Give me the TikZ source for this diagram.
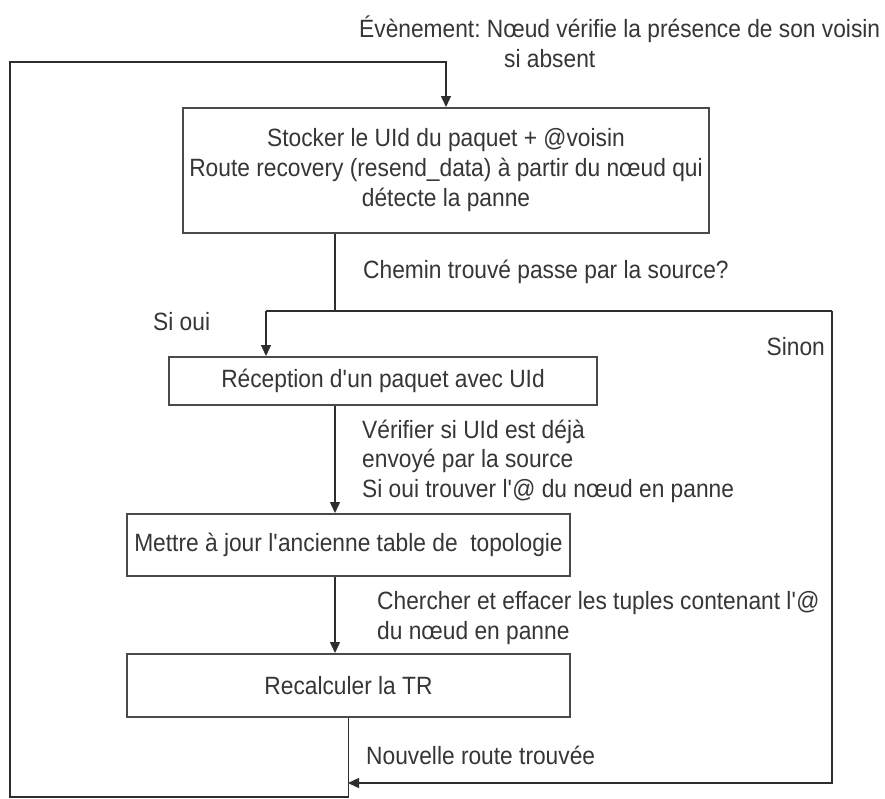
\documentclass[tikz,border=0pt]{standalone}
\usepackage{fontspec}
\setmainfont{Liberation Sans}[FakeStretch=0.91]
\usetikzlibrary{arrows.meta}
\definecolor{txt}{HTML}{363636}
\definecolor{ln}{HTML}{2E2E2E}
\definecolor{bx}{HTML}{4A4A4A}
\frenchspacing
\newcommand{\apo}{\textquotesingle}
\begin{document}
\begin{tikzpicture}[x=1pt,y=-1pt,
  every node/.style={text=txt,font=\fontsize{25}{30}\selectfont},
  box/.style={draw=bx,line width=2pt,inner sep=0pt,align=center},
  lbl/.style={inner sep=0pt,anchor=west,align=left},
  conn/.style={draw=ln,line width=1.4pt},
  arr/.style={conn,-{Triangle[length=11pt,width=10pt]}}]
\fill[white] (0,0) rectangle (885,798);
\useasboundingbox (0,0) rectangle (885,798);

% boxes
\node[box,minimum width=526pt,minimum height=125pt] (b1) at (446,170.5)
  {Stocker le UId du paquet + @voisin\\Route recovery (resend\_data) à partir du nœud qui\\détecte la panne};
\node[box,minimum width=428pt,minimum height=48pt] (b2) at (383,381)
  {Réception d\apo un paquet avec UId};
\node[box,minimum width=443pt,minimum height=62pt] (b3) at (348.5,545)
  {Mettre à jour l\apo ancienne table de\ \ topologie};
\node[box,minimum width=443pt,minimum height=63pt] (b4) at (348.5,685.5)
  {Recalculer la TR};

% labels
\node[lbl] (evt) at (359,42) {Évènement: Nœud vérifie la présence de son voisin\\\hspace*{145pt}si absent};
\node[lbl] (chemin) at (363,272) {Chemin trouvé passe par la source?};
\node[lbl] (oui) at (153,322) {Si oui};
\node[lbl,anchor=east] (sinon) at (825,347) {Sinon};
\node[lbl,font=\fontsize{25}{29.5}\selectfont] (verif) at (362,461)
  {Vérifier si UId est déjà\\envoyé par la source\\Si oui trouver l\apo @ du nœud en panne};
\node[lbl] (cherch) at (377,618) {Chercher et effacer les tuples contenant l\apo @\\du nœud en panne};
\node[lbl] (nouv) at (366,755) {Nouvelle route trouvée};

% coordinates
\coordinate (split) at (335,311);
\coordinate (yes) at (266,311);
\coordinate (no) at (832,311);
\coordinate (join) at (348,783);
\coordinate (lb) at (10,797);
\coordinate (lt) at (10,62);

% connectors
\draw[conn] (b1.south -| split) -- (split);
\draw[conn] (yes) -- (no);
\draw[arr] (yes) -- (yes |- b2.north);
\draw[arr] (no) -- (no |- join) -- (join);
\draw[arr] (b2.south -| split) -- (b3.north -| split);
\draw[arr] (b3.south -| split) -- (b4.north -| split);
\draw[arr] (b4.south) -- (b4.south |- lb) -- (lb) -- (lt) -- (lt -| b1.north) -- (b1.north);
\end{tikzpicture}
\end{document}
